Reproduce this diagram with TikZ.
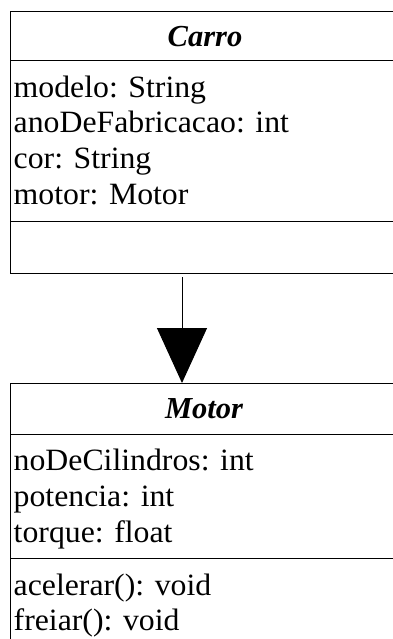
\documentclass[tikz,border=0pt]{standalone}
\usepackage{fontspec}
\setmainfont[FakeStretch=1.025]{Liberation Serif}
\newfontfamily\titlefont{Liberation Serif}
\usetikzlibrary{arrows.meta}
\begin{document}
\begin{tikzpicture}[x=1pt,y=1pt,
  box/.style={draw=black, line width=1pt, minimum width=390pt, anchor=north west, inner sep=0pt},
  sep/.style={line width=1pt},
  title/.style={font=\titlefont\fontsize{30.5}{34}\selectfont\bfseries\itshape, inner sep=0pt, anchor=base},
  member/.style={font=\fontsize{31}{34}\selectfont, inner sep=0pt, anchor=base west},
  assoc/.style={line width=1pt, -{Triangle[width=50pt,length=55pt]}}]
\useasboundingbox (0,0) rectangle (393,-639);
\clip (0,0) rectangle (393,-639);
% Carro
\node[box, minimum height=262pt] (carro) at (10,-11) {};
\draw[sep] (10,-61) -- (400,-61);
\draw[sep] (10,-221) -- (400,-221);
\node[title] (carroT) at (205,-46.5) {Carro};
\node[member] (c1) at (13.5,-97.5) {modelo: String};
\node[member] (c2) at (13.5,-133) {anoDeFabricacao: int};
\node[member] (c3) at (13.5,-168.5) {cor: String};
\node[member] (c4) at (13.5,-204) {motor: Motor};
% Motor
\node[box, minimum height=270pt] (motor) at (10,-383) {};
\draw[sep] (10,-434) -- (400,-434);
\draw[sep] (10,-558) -- (400,-558);
\node[title] (motorT) at (204,-418) {Motor};
\node[member] (m1) at (13.5,-470) {noDeCilindros: int};
\node[member] (m2) at (13.5,-506) {potencia: int};
\node[member] (m3) at (13.5,-542) {torque: float};
\node[member] (m4) at (13.5,-595) {acelerar(): void};
\node[member] (m5) at (13.5,-630) {freiar(): void};
% association
\coordinate (a1) at (182,-277);
\coordinate (a2) at (182,-383);
\draw[assoc] (a1) -- (a2);
\end{tikzpicture}
\end{document}
